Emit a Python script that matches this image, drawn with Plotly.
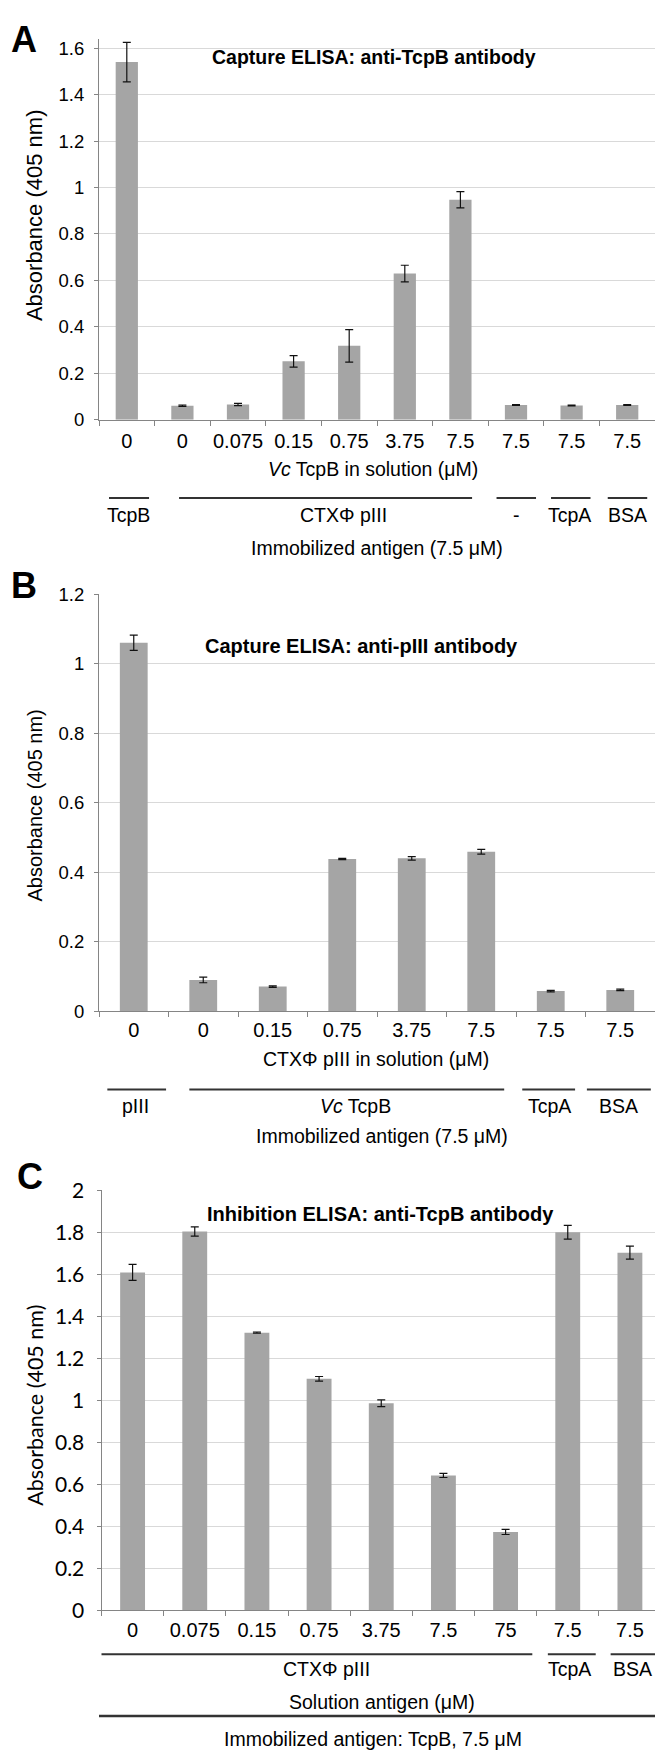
import plotly.graph_objects as go

W, H = 655, 1753

# ---------------- data ----------------
# Panel A
a_ticks = ["0", "0", "0.075", "0.15", "0.75", "3.75", "7.5", "7.5", "7.5", "7.5"]
a_values = [1.540, 0.060, 0.065, 0.251, 0.318, 0.629, 0.947, 0.063, 0.061, 0.063]
a_errors = [0.085, 0.003, 0.005, 0.025, 0.070, 0.036, 0.035, 0.002, 0.002, 0.002]
a_groups = ["TcpB", "CTXΦ pIII", "-", "TcpA", "BSA"]
a_title = "Capture ELISA: anti-TcpB antibody"
a_xtitle = "<i>Vc</i> TcpB in solution (μM)"
a_gtitle = "Immobilized antigen (7.5 μM)"
a_yticks = [0, 0.2, 0.4, 0.6, 0.8, 1, 1.2, 1.4, 1.6]
a_yticktext = ["0", "0.2", "0.4", "0.6", "0.8", "1", "1.2", "1.4", "1.6"]

# Panel B
b_ticks = ["0", "0", "0.15", "0.75", "3.75", "7.5", "7.5", "7.5"]
b_values = [1.060, 0.090, 0.071, 0.438, 0.440, 0.459, 0.058, 0.0615]
b_errors = [0.022, 0.008, 0.002, 0.002, 0.005, 0.007, 0.002, 0.002]
b_groups = ["pIII", "<i>Vc</i> TcpB", "TcpA", "BSA"]
b_title = "Capture ELISA: anti-pIII antibody"
b_xtitle = "CTXΦ pIII in solution (μM)"
b_gtitle = "Immobilized antigen (7.5 μM)"
b_yticks = [0, 0.2, 0.4, 0.6, 0.8, 1, 1.2]
b_yticktext = ["0", "0.2", "0.4", "0.6", "0.8", "1", "1.2"]

# Panel C
c_ticks = ["0", "0.075", "0.15", "0.75", "3.75", "7.5", "75", "7.5", "7.5"]
c_values = [1.609, 1.804, 1.322, 1.102, 0.986, 0.642, 0.3725, 1.800, 1.703]
c_errors = [0.038, 0.022, 0.003, 0.011, 0.016, 0.010, 0.012, 0.033, 0.031]
c_groups = ["CTXΦ pIII", "TcpA", "BSA"]
c_title = "Inhibition ELISA: anti-TcpB antibody"
c_xtitle = "Solution antigen (μM)"
c_gtitle = "Immobilized antigen: TcpB, 7.5 μM"
c_yticks = [0, 0.2, 0.4, 0.6, 0.8, 1, 1.2, 1.4, 1.6, 1.8, 2]
c_yticktext = ["0", "0.2", "0.4", "0.6", "0.8", "1", "1.2", "1.4", "1.6", "1.8", "2"]

ytitle = "Absorbance (405 nm)"
panel_letters = ["A", "B", "C"]

# ---------------- styling helpers ----------------
BAR = "#a5a5a5"
AXIS = "#858585"
GRID = "#d9d9d9"
TXT = "#000000"
ARIAL = "Liberation Sans, Arial, sans-serif"
LATO = "Lato, Carlito, sans-serif"


def px(x):
    return x / W


def py(y):
    return 1 - y / H


fig = go.Figure()

panels = [
    ("a", a_ticks, a_values, a_errors, "x", "y"),
    ("b", b_ticks, b_values, b_errors, "x2", "y2"),
    ("c", c_ticks, c_values, c_errors, "x3", "y3"),
]
cats = {}
for key, ticks, vals, errs, xa, ya in panels:
    cx = [f"{key}{i}" for i in range(len(vals))]
    cats[key] = cx
    fig.add_trace(go.Bar(
        x=cx, y=vals, width=0.4, xaxis=xa, yaxis=ya,
        marker=dict(color=BAR, line=dict(width=0)),
        error_y=dict(type="data", array=errs, visible=True,
                     color="#111111", thickness=1.2, width=4),
        showlegend=False, hoverinfo="y",
    ))


def xaxis_style(domain, rng, cx, ticks, standoff):
    return dict(
        domain=domain, range=rng, type="category",
        tickmode="array", tickvals=cx, ticktext=ticks, tickangle=0,
        tickson="boundaries", ticks="outside", ticklen=5, tickcolor=AXIS,
        showline=True, linecolor=AXIS, linewidth=1,
        showgrid=False, zeroline=False, fixedrange=True,
        tickfont=dict(family=ARIAL, size=20, color=TXT),
        ticklabelstandoff=standoff,
    )


def yaxis_style(domain, rng, tv, tt, anchor, font, standoff):
    return dict(
        domain=domain, range=rng, anchor=anchor,
        tickmode="array", tickvals=tv, ticktext=tt,
        ticks="outside", ticklen=4, tickcolor=AXIS,
        showline=True, linecolor=AXIS, linewidth=1,
        showgrid=True, gridcolor=GRID, gridwidth=1,
        zeroline=False, fixedrange=True,
        tickfont=font, ticklabelstandoff=standoff,
    )


fig.update_layout(
    width=W, height=H,
    margin=dict(l=0, r=0, t=0, b=0),
    paper_bgcolor="white", plot_bgcolor="white",
    bargap=0.6, showlegend=False,
    xaxis=xaxis_style([px(99), 1], [-0.5, len(a_values) - 0.5], cats["a"], a_ticks, 3),
    yaxis=yaxis_style([py(411.5), py(25)], [0, 1.641], a_yticks, a_yticktext, "x",
                      dict(family=ARIAL, size=18.5, color=TXT), 6),
    xaxis2=xaxis_style([px(99), 1], [-0.5, len(b_values) - 0.5], cats["b"], b_ticks, 1),
    yaxis2=yaxis_style([py(1011.7), py(588.5)], [0, 1.2], b_yticks, b_yticktext, "x2",
                       dict(family=ARIAL, size=18.5, color=TXT), 6),
    xaxis3=xaxis_style([px(101.5), 1], [-0.5, len(c_values) - 0.5 - 6 / 62.2], cats["c"], c_ticks, 2),
    yaxis3=yaxis_style([py(1619.3), py(1193.3)], [0, 2.0], c_yticks, c_yticktext, "x3",
                       dict(family=LATO, size=21, color=TXT), 8),
)
fig.layout.xaxis.anchor = "y"
fig.layout.xaxis2.anchor = "y2"
fig.layout.xaxis3.anchor = "y3"

ann = []


def text(x, y, s, size=19, bold=False, xref="paper", family=ARIAL, angle=0):
    if bold:
        s = f"<b>{s}</b>"
    ann.append(dict(x=x, y=y, xref=xref, yref="paper", text=s, showarrow=False,
                    xanchor="center", yanchor="middle", textangle=angle,
                    font=dict(family=family, size=size, color=TXT)))


shapes = []


def gline(xref, x0, x1, y, width=2):
    shapes.append(dict(type="line", xref=xref, yref="paper", x0=x0, x1=x1,
                       y0=py(y), y1=py(y), line=dict(color="#333333", width=width)))


# panel letters
text(px(24), py(26), panel_letters[0], size=36, bold=True)
text(px(24), py(580), panel_letters[1], size=36, bold=True)
text(px(30), py(1179), panel_letters[2], size=36, bold=True)

# titles
text(px(374), py(44), a_title, size=19.5, bold=True)
text(px(361), py(641), b_title, size=20, bold=True)
text(px(380), py(1217), c_title, size=20, bold=True)

# y titles
text(px(34), py(204), ytitle, size=22, angle=-90)
text(px(35), py(803), ytitle, size=20, angle=-90)
text(px(35), py(1412), ytitle, size=21.5, angle=-90, family=LATO)

# ---- Panel A bottom annotation ----
text(px(372.5), py(462), a_xtitle, size=19.5)
a_spans = [(-0.32, 0.40), (0.94, 6.21), (6.65, 7.36), (7.63, 8.34), (8.65, 9.36)]
a_lab_x = [0.03, 3.89, 7.0, 7.97, 9.0]
for (s0, s1), lx, g in zip(a_spans, a_lab_x, a_groups):
    gline("x", s0, s1, 491)
    text(lx, py(508), g, size=19.5, xref="x")
text(px(377), py(542), a_gtitle, size=19.5)

# ---- Panel B bottom annotation ----
text(px(375.5), py(1060), b_xtitle, size=19.5)
b_spans = [(-0.38, 0.465), (0.80, 5.33), (5.59, 6.35), (6.52, 7.44)]
b_lab_x = [0.02, 3.19, 5.98, 6.98]
for (s0, s1), lx, g in zip(b_spans, b_lab_x, b_groups):
    gline("x2", s0, s1, 1091)
    text(lx, py(1108), g, size=19.5, xref="x2")
text(px(381.5), py(1138.5), b_gtitle, size=19.5)

# ---- Panel C bottom annotation ----
c_spans = [(-0.534, 6.43), (6.68, 7.45), (7.69, 8.7)]
c_lab_x = [3.12, 7.03, 8.04]
for (s0, s1), lx, g in zip(c_spans, c_lab_x, c_groups):
    gline("x3", s0, s1, 1664)
    text(lx, py(1679), g, size=19.5, xref="x3")
text(px(382), py(1712), c_xtitle, size=19.5)
gline("paper", px(99), 1, 1726.7, width=2.5)
text(px(373), py(1750), c_gtitle, size=19.5)

fig.update_layout(annotations=ann, shapes=shapes)

fig.write_html("out.html", config=dict(displayModeBar=False))
